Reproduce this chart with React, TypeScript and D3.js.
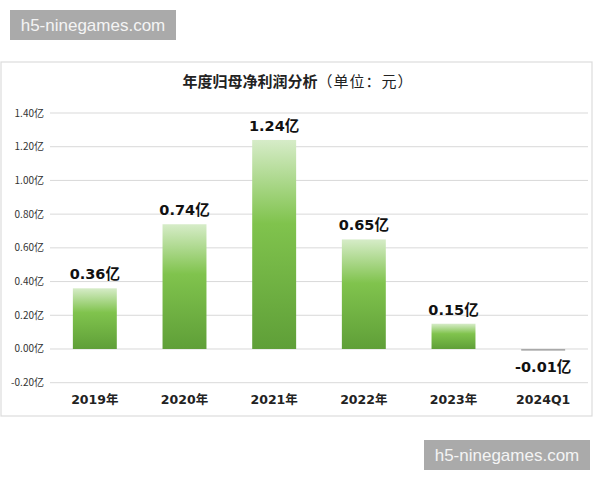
import React from "react";
import * as d3 from "d3";

const categories = ["2019年", "2020年", "2021年", "2022年", "2023年", "2024Q1"];
const values = [0.36, 0.74, 1.24, 0.65, 0.15, -0.01];
const yTicks = [-0.2, 0, 0.2, 0.4, 0.6, 0.8, 1.0, 1.2, 1.4];
const titleBold = "年度归母净利润分析";
const titleNormal = "（单位：元）";
const watermark = "h5-ninegames.com";

const W = 600;
const H = 480;
const plot = { left: 50, right: 588, top: 113, bottom: 382.7 };

export default function App() {
  const x = d3
    .scaleBand<string>()
    .domain(categories)
    .range([plot.left, plot.right])
    .paddingInner(0.51)
    .paddingOuter(0.255);
  const y = d3.scaleLinear().domain([-0.2, 1.4]).range([plot.bottom, plot.top]);
  const cjk = "'Noto Sans CJK SC', 'Noto Sans', sans-serif";
  const num = "'DejaVu Sans', 'Noto Sans CJK SC', sans-serif";

  return (
    <svg
      width={W}
      height={H}
      style={{ position: "fixed", left: 0, top: 0, background: "#fff" }}
    >
      <defs>
        <linearGradient id="barGrad" x1="0" y1="0" x2="0" y2="1">
          <stop offset="0%" stopColor="#d6ecc8" />
          <stop offset="40%" stopColor="#80c34d" />
          <stop offset="100%" stopColor="#5f9f38" />
        </linearGradient>
      </defs>
      <rect x={0} y={0} width={W} height={H} fill="#fff" />
      {/* top watermark */}
      <rect x={10} y={10} width={166} height={30} fill="#aaaaaa" />
      <text x={93} y={31} textAnchor="middle" fontSize={17} fill="#f4f4f4" fontFamily="'Liberation Sans', 'Noto Sans', sans-serif">
        {watermark}
      </text>
      {/* panel */}
      <rect x={1} y={62} width={591} height={354} fill="#fff" stroke="#dcdcdc" strokeWidth={1.2} />
      {/* title */}
      <text x={298} y={87} textAnchor="middle" fontFamily={cjk} fontSize={15} fill="#222">
        <tspan fontWeight="bold">{titleBold}</tspan>
        <tspan fontWeight="normal" letterSpacing={1}>{titleNormal}</tspan>
      </text>
      {/* grid */}
      {yTicks.map((t) => (
        <g key={t}>
          <line x1={plot.left} x2={plot.right} y1={y(t)} y2={y(t)} stroke="#d9d9d9" strokeWidth={1} />
          <text x={44} y={y(t) + 3.5} textAnchor="end" fontSize={10} fontFamily={cjk} fill="#333">
            {t.toFixed(2) + "亿"}
          </text>
        </g>
      ))}
      {/* bars */}
      {categories.map((c, i) => {
        const v = values[i];
        const y0 = y(0);
        const y1 = y(v);
        const top = Math.min(y0, y1);
        const h = Math.abs(y1 - y0);
        const cx = (x(c) ?? 0) + x.bandwidth() / 2;
        return (
          <g key={c}>
            {v >= 0 ? (
              <rect x={x(c)} y={top} width={x.bandwidth()} height={h} fill="url(#barGrad)" />
            ) : (
              <rect x={x(c)} y={y0} width={x.bandwidth()} height={Math.max(h, 1.5)} fill="#a9a9a9" />
            )}
            <text
              x={cx}
              y={v >= 0 ? y1 - 9 : y0 + 23}
              textAnchor="middle"
              fontSize={14.5}
              fontWeight="bold"
              fontFamily={num}
              fill="#111"
            >
              {v.toFixed(2) + "亿"}
            </text>
            <text
              x={cx}
              y={404}
              textAnchor="middle"
              fontSize={12.5}
              fontWeight="bold"
              fontFamily={num}
              fill="#222"
            >
              {c}
            </text>
          </g>
        );
      })}
      {/* bottom watermark */}
      <rect x={424} y={440} width={166} height={30} fill="#aaaaaa" />
      <text x={507} y={461} textAnchor="middle" fontSize={17} fill="#f4f4f4" fontFamily="'Liberation Sans', 'Noto Sans', sans-serif">
        {watermark}
      </text>
    </svg>
  );
}
